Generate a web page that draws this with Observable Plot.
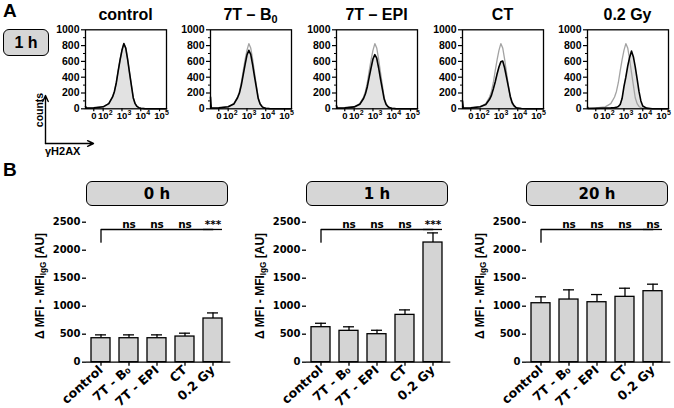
<!DOCTYPE html>
<html><head><meta charset="utf-8">
<script src="https://cdn.jsdelivr.net/npm/d3@7"></script>
<script src="https://cdn.jsdelivr.net/npm/@observablehq/plot@0.6"></script>
<style>
body{margin:0;background:#fff;}
#root{position:relative;width:674px;height:408px;overflow:hidden;font-family:"Liberation Sans",Arial,sans-serif;font-weight:bold;color:#000;}
.box{position:absolute;background:#d6d6d6;border:1.4px solid #000;border-radius:6px;box-sizing:border-box;display:flex;align-items:center;justify-content:center;font-weight:bold;}
.t{position:absolute;white-space:nowrap;font-weight:bold;}
sub{font-size:0.68em;vertical-align:-0.3em;line-height:0;}
svg{overflow:visible;}
</style></head>
<body><div id="root"></div>
<script>
// ---------- DATA ----------
const histNames = ["control", "7T – B₀", "7T – EPI", "CT", "0.2 Gy"];
const logFluor = [1.06,1.1,1.5,2.0,2.3,2.5,2.6,2.7,2.8,2.9,3.0,3.1,3.2,3.3,3.4,3.5,3.6,3.7,3.8,3.9,4.0,4.2,4.5,5.0,5.37];
const countsControl = [30,8,12,25,65,150,220,330,480,620,740,825,770,630,460,300,140,65,30,14,7,2,0,0,0];
const counts7TB0    = [150,10,12,25,60,140,200,300,430,560,680,740,690,560,410,270,130,60,28,12,6,2,0,0,0];
const counts7TEPI   = [40,8,12,24,58,130,190,280,400,520,630,685,640,520,380,250,120,55,26,12,6,2,0,0,0];
const countsCT      = [100,8,12,25,55,120,170,250,340,440,530,595,605,520,400,280,160,80,40,18,8,3,0,0,0];
const counts02Gy    = [20,3,5,10,12,15,18,28,55,130,280,400,540,650,730,660,530,380,220,100,35,8,0,0,0];
const histYTicks = [0,200,400,600,800,1000];
const histYMinor = [100,300,500,700,900];
const histXTicks = [1.5,2,3,4,5];
const histXBase = ["0","10","10","10","10"];
const histXExp  = ["","2","3","4","5"];

const groups = ["control","7T - B₀","7T - EPI","CT","0.2 Gy"];
const timepoints = ["0 h","1 h","20 h"];
const mean0h  = [428,428,428,458,780];
const err0h   = [60,60,60,60,100];
const mean1h  = [625,560,500,845,2137];
const err1h   = [70,72,70,89,172];
const mean20h = [1053,1119,1071,1167,1268];
const err20h  = [114,173,137,154,125];
const sig0h  = ["ns","ns","ns","***"];
const sig1h  = ["ns","ns","ns","***"];
const sig20h = ["ns","ns","ns","ns"];
const barYTicks = [0,500,1000,1500,2000,2500];
const bracketTop = 2370, bracketDrop = 2143;

// ---------- LAYOUT ----------
const root = document.getElementById("root");
function put(el, left, top){ el.style.position="absolute"; el.style.left=left+"px"; el.style.top=top+"px"; root.appendChild(el); return el; }
function div(cls, html, css){ const d=document.createElement("div"); d.className=cls; d.innerHTML=html; Object.assign(d.style, css||{}); root.appendChild(d); return d; }
const topStyle = {fontFamily:"'Liberation Sans', Arial, sans-serif", fontWeight:"bold", background:"transparent", color:"#000", overflow:"visible"};
const botStyle = {fontFamily:"'DejaVu Sans', sans-serif", fontWeight:"bold", background:"transparent", color:"#000", overflow:"visible"};
const subHTML = s => s.replace("₀","<sub>0</sub>");

div("t","A",{left:"3px",top:"0px",fontSize:"19px"});
div("t","B",{left:"3px",top:"159px",fontSize:"19px"});
div("box","1 h",{left:"3px",top:"29px",width:"46px",height:"27px",fontSize:"16px"});

// histograms
const frameLefts = [85,210,336,462,587];
const sampleCounts = [countsControl, counts7TB0, counts7TEPI, countsCT, counts02Gy];
const xTickRows = histXTicks.map((t,k)=>({t, base:histXBase[k], exp:histXExp[k]}));
histNames.forEach((name,i)=>{
  const sample = logFluor.map((d,j)=>({d, c: sampleCounts[i][j]}));
  const ref = logFluor.map((d,j)=>({d, c: countsControl[j]}));
  const svg = Plot.plot({
    width:127, height:128, marginLeft:40, marginRight:6, marginTop:29.3, marginBottom:19.7,
    style:{...topStyle, fontSize:"10px"},
    x:{domain:[1.06,5.37]}, y:{domain:[0,1000]},
    marks:[
      Plot.areaY(sample,{x:"d",y:"c",fill:"#e2e2e2"}),
      Plot.lineY(ref,{x:"d",y:"c",stroke:"#a3a3a3",strokeWidth:1.3}),
      Plot.lineY(sample,{x:"d",y:"c",stroke:"#000",strokeWidth:1.6}),
      Plot.frame({stroke:"#000",strokeWidth:1.3}),
      Plot.axisY({ticks:histYTicks,tickFormat:d=>String(d),tickSize:4,tickPadding:2,label:null,fontSize:10.5,strokeWidth:1.2}),
      Plot.axisY({ticks:histYMinor,tickSize:2,tickFormat:()=>"",label:null,strokeWidth:1}),
      Plot.axisX({ticks:histXTicks,tickFormat:()=>"",tickSize:3,label:null,strokeWidth:1.2}),
      Plot.text(xTickRows,{x:"t",text:"base",frameAnchor:"bottom",dy:10,fontSize:9.5,textAnchor:"middle"}),
      Plot.text(xTickRows,{x:"t",text:"exp",frameAnchor:"bottom",dy:6.5,dx:5.5,fontSize:7,textAnchor:"start"})
    ]
  });
  put(svg, frameLefts[i]-40, 0);
  div("t", subHTML(name), {left:(frameLefts[i]+40.5)+"px", top:"5px", fontSize:"16px", transform:"translateX(-50%)", lineHeight:"20px"});
});

// counts / γH2AX arrows
const arrows = Plot.plot({
  width:60, height:60, marginLeft:5, marginRight:7, marginTop:5, marginBottom:7,
  style:topStyle, x:{domain:[0,1],axis:null}, y:{domain:[0,1],axis:null},
  marks:[ Plot.arrow([{a:0,b:0,c:0,d:1},{a:0,b:0,c:1,d:0}],{x1:"a",y1:"b",x2:"c",y2:"d",strokeWidth:1.4,headLength:7,headAngle:50}) ]
});
put(arrows, 40, 90);
div("t","counts",{left:"38.5px",top:"110px",fontSize:"10.5px",transform:"translate(-50%,-50%) rotate(-90deg)"});
div("t","γH2AX",{left:"45px",top:"145px",fontSize:"11px"});

// bar charts
const axisXs = [85.7,305.7,525.7];
const means = [mean0h, mean1h, mean20h];
const errs = [err0h, err1h, err20h];
const sigs = [sig0h, sig1h, sig20h];
timepoints.forEach((tp,p)=>{
  const rows = groups.map((g,k)=>({g, v:means[p][k], e:errs[p][k]}));
  const sigRows = sigs[p].map((s,k)=>({g:groups[k+1], s}));
  const bracket = [{g:groups[0],y:bracketDrop},{g:groups[0],y:bracketTop},{g:groups[groups.length-1],y:bracketTop}];
  const svg = Plot.plot({
    width:214.3, height:193, marginLeft:60, marginRight:10, marginTop:6.7, marginBottom:46.3,
    style:{...botStyle, fontSize:"10px"},
    x:{domain:groups, paddingInner:0.335, paddingOuter:0.235, align:0.38},
    y:{domain:[0,2500]},
    marks:[
      Plot.ruleX(rows,{x:"g",y1:"v",y2:d=>d.v+d.e,strokeWidth:1.3}),
      Plot.tickY(rows,{x:"g",y:d=>d.v+d.e,strokeWidth:1.3,inset:4}),
      Plot.barY(rows,{x:"g",y:"v",fill:"#d4d4d4",stroke:"#000",strokeWidth:1.3}),
      Plot.ruleY([0],{strokeWidth:1.3}),
      Plot.axisY({ticks:barYTicks,tickFormat:d=>String(d),tickSize:4,tickPadding:2,line:true,label:null,fontSize:10,strokeWidth:1.3}),
      Plot.axisX({tickRotate:-42,tickSize:4,tickPadding:2,label:null,fontSize:12.5,strokeWidth:1.3}),
      Plot.line(bracket,{x:"g",y:"y",strokeWidth:1.3}),
      Plot.tickY([bracket[2]],{x:"g",y:"y",strokeWidth:1.3}),
      Plot.text(sigRows,{x:"g",y:bracketTop,text:"s",lineAnchor:"bottom",dy:-1,fontSize:10.5})
    ]
  });
  put(svg, axisXs[p]-60, 215);
  div("box", tp, {left:(axisXs[p]+0.3)+"px", top:"181px", width:"142px", height:"25px", fontFamily:"'DejaVu Sans',sans-serif", fontSize:"15px"});
  div("t", "Δ MFI - MFI<sub>IgG</sub> [AU]", {left:(axisXs[p]-45.7)+"px", top:"286px", fontSize:"12px", transform:"translate(-50%,-50%) rotate(-90deg)"});
});
</script></body></html>
